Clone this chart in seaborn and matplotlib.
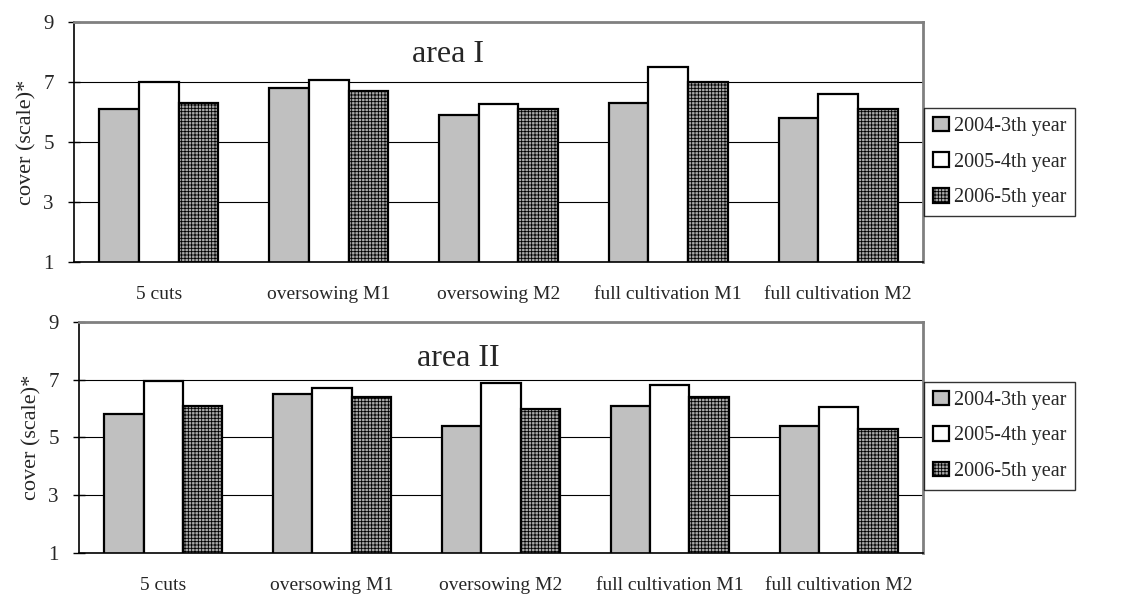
import pandas as pd
import matplotlib
matplotlib.use('Agg')
import matplotlib.pyplot as plt
import seaborn as sns

# treatments on the x axis
treatments = ['5 cuts', 'oversowing M1', 'oversowing M2',
              'full cultivation M1', 'full cultivation M2']
years = ['2004-3th year', '2005-4th year', '2006-5th year']

# cover values (scale 1-9)
area1_2004 = [6.1, 6.8, 5.9, 6.3, 5.8]
area1_2005 = [7.0, 7.05, 6.25, 7.5, 6.6]
area1_2006 = [6.3, 6.7, 6.1, 7.0, 6.1]

area2_2004 = [5.8, 6.5, 5.4, 6.1, 5.4]
area2_2005 = [6.95, 6.7, 6.9, 6.8, 6.05]
area2_2006 = [6.1, 6.4, 6.0, 6.4, 5.3]

panel_titles = ['area I', 'area II']


def make_df(v04, v05, v06):
    df = pd.DataFrame({'Treatment': treatments, years[0]: v04,
                       years[1]: v05, years[2]: v06})
    return df.melt(id_vars='Treatment', var_name='Year', value_name='Cover')


sns.set_style('white')
plt.rcParams['font.family'] = ['Liberation Serif', 'DejaVu Serif']
plt.rcParams['hatch.linewidth'] = 0.6
plt.rcParams['hatch.color'] = '#555555'

fig = plt.figure(figsize=(11.3, 5.94), dpi=100)
ax1 = fig.add_axes([0.0655, 0.559, 0.7513, 0.404])
ax2 = fig.add_axes([0.0699, 0.069, 0.7469, 0.389])

palette = {years[0]: '#c0c0c0', years[1]: '#ffffff', years[2]: '#a8a8a8'}
hatches = [None, None, '+++++']

panels = [(ax1, make_df(area1_2004, area1_2005, area1_2006), panel_titles[0], 1.7, 7.9),
          (ax2, make_df(area2_2004, area2_2005, area2_2006), panel_titles[1], 1.75, 7.75)]

for ax, df, title, tx, ty in panels:
    sns.barplot(data=df, x='Treatment', y='Cover', hue='Year', palette=palette,
                width=0.7, edgecolor='black', linewidth=1.6, ax=ax,
                legend=False, saturation=1)
    for cont, h in zip(ax.containers, hatches):
        for p in cont.patches:
            if h:
                p.set_hatch(h)

    ax.set_ylim(1, 9)
    ax.set_xlim(-0.5, 4.5)
    ax.set_yticks([1, 3, 5, 7, 9])
    ax.set_xticks(range(5))
    ax.set_xticklabels(treatments)
    ax.set_xticks([i - 0.5 for i in range(6)], minor=True)
    ax.tick_params(axis='x', which='major', length=0, pad=17, labelsize=14)
    ax.tick_params(axis='x', which='minor', direction='inout', length=9, width=1, color='black')
    ax.tick_params(axis='y', direction='inout', length=9, width=1, color='black',
                   pad=10, labelsize=15, left=True)
    ax.yaxis.grid(True, color='black', linewidth=0.8)
    ax.set_axisbelow(True)
    ax.set_xlabel('')
    ax.set_ylabel('cover (scale)*', fontsize=16, labelpad=5)
    for s in ['left', 'bottom']:
        ax.spines[s].set_color('black')
        ax.spines[s].set_linewidth(1.2)
    for s in ['top', 'right']:
        ax.spines[s].set_color('#808080')
        ax.spines[s].set_linewidth(2)
    ax.text(tx, ty, title, fontsize=23, ha='center', va='center')

# legends to the right of each panel
for ax, y0 in [(ax1, 0.636), (ax2, 0.175)]:
    handles = [cont.patches[0] for cont in ax.containers]
    fig.legend(handles, years, loc='lower left', bbox_to_anchor=(0.818, y0),
               fontsize=14.5, frameon=True, fancybox=False, edgecolor='black',
               handlelength=0.75, handleheight=0.75, handletextpad=0.25,
               labelspacing=0.8, borderpad=0.45, borderaxespad=0)

fig.savefig('out.png', dpi=100)
